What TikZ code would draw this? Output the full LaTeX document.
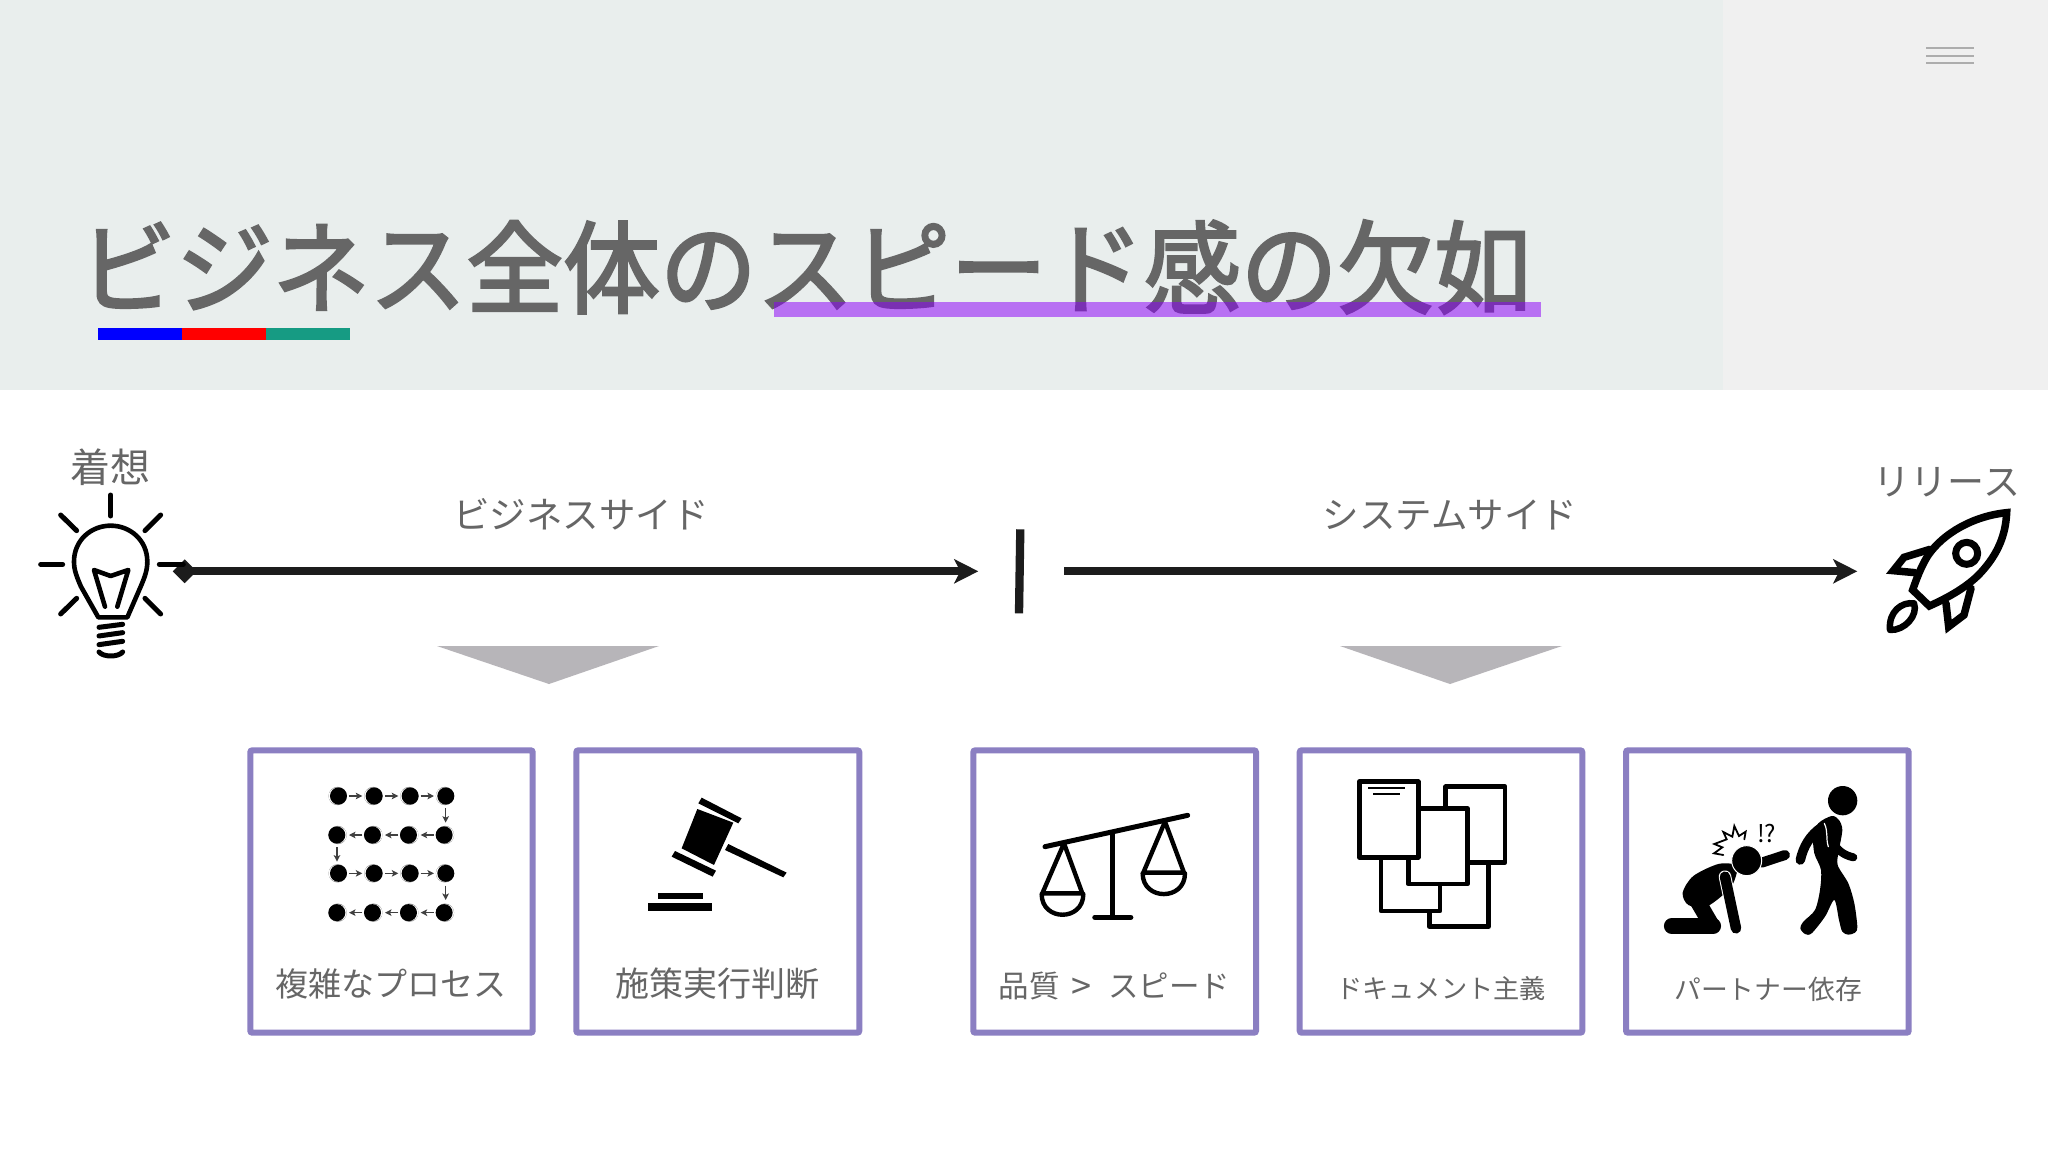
\documentclass[tikz,border=0pt]{standalone}
\usepackage{fontspec}
\usetikzlibrary{arrows.meta,shapes.geometric}
\setmainfont{Noto Sans CJK JP}
\newfontfamily\titlefont[FakeBold=2.6]{Noto Sans CJK JP}
\definecolor{headbg}{HTML}{E9EEED}
\definecolor{headbgb}{HTML}{F0F0F0}
\definecolor{ink}{HTML}{666666}
\definecolor{linecol}{HTML}{1C1C1C}
\definecolor{boxcol}{HTML}{8B7FC2}
\definecolor{purplebar}{HTML}{8D00F9}
\definecolor{tealbar}{HTML}{169B83}
\definecolor{trigray}{HTML}{B7B5B9}
\definecolor{dotgray}{HTML}{8A8A8A}
\tikzset{
  labeltext/.style={text=ink,inner sep=0pt,font=\fontsize{#1}{#1}\selectfont},
  itemtext/.style={text=ink,inner sep=0pt,font=\fontsize{#1}{#1}\selectfont},
  itembox/.style={draw=boxcol,line width=6pt,rounded corners=2pt,fill=white},
  mainline/.style={draw=linecol,line width=8pt,-{Stealth[length=24pt,width=24pt,inset=6pt]}},
  iconline/.style={draw=black,line cap=round,line join=round,line width=#1},
  zoomed/.style={x=0.3333pt,y=-0.3333pt},
  docpage/.style={draw=black,fill=white,line width=4.6pt,line join=round},
  flowarrow/.style={draw=black!75,line width=1.5pt,-{Stealth[length=6.5pt,width=6.5pt,inset=1.5pt]}}
}
\begin{document}
\begin{tikzpicture}[x=1pt,y=-1pt]
\useasboundingbox (0,0) rectangle (2048,1152);
\fill[white] (0,0) rectangle (2048,1152);
% header
\fill[headbg] (0,0) rectangle (1723,390);
\fill[headbgb] (1723,0) rectangle (2048,390);
\foreach \yy in {48,55.7,63.3}{\draw[color=black!32,line width=2pt] (1926,\yy) -- (1974,\yy);}
\node[anchor=west,inner sep=0pt,text=ink] (title) at (79,267) {\scalebox{1}[1.04]{\titlefont\fontsize{96.8}{96.8}\selectfont ビジネス全体のスピード感の欠如}};
\fill[purplebar,opacity=0.53] (774,302) rectangle (1541,317);
\fill[blue] (98,328) rectangle (182,339.5);
\fill[red] (182,328) rectangle (266,339.5);
\fill[tealbar] (266,328) rectangle (350,339.5);
% labels
\node[labeltext=40] (ideaL) at (110.7,467.5) {着想};
\node[labeltext=37] (relL) at (1947,482) {リリース};
\node[labeltext=36.5] (bizL) at (581,514.5) {ビジネスサイド};
\node[labeltext=36.5] (sysL) at (1450,515.5) {システムサイド};
% arrows
\node[diamond,fill=linecol,minimum size=24pt,inner sep=0pt] (dia) at (184.7,571.3) {};
\coordinate (endA) at (978.3,571.3);
\coordinate (startB) at (1064,571.3);
\coordinate (endB) at (1857.3,571.3);
\draw[mainline] (dia.center) -- (endA);
\draw[mainline] (startB) -- (endB);
\draw[draw=linecol,line width=8.3pt] (1020.3,529.3) -- (1019,613.3);
% triangles
\fill[trigray] (437,646) -- (659,646) -- (549,684) -- cycle;
\fill[trigray] (1340,646) -- (1562,646) -- (1450,684) -- cycle;
% bulb
\begin{scope}[shift={(20,430)},zoomed]
\foreach \a/\b/\c/\d in {272/195/272/258,62/403/128/403,418/403/490/403,122/255/170/302,422/255/375/302,122/552/170/505,422/552/375/505}{
  \draw[iconline=5pt] (\a,\b) -- (\c,\d);}
\draw[iconline=4.6pt] (235,562) -- (322,562) -- (362,470) .. controls (375,440) and (382,420) .. (382,395)
  .. controls (382,330) and (330,287) .. (272,287) .. controls (214,287) and (162,330) .. (162,395)
  .. controls (162,420) and (170,440) .. (183,470) -- cycle;
\draw[iconline=4.6pt] (255,530) -- (222,420) -- (272,438) -- (325,420) -- (292,530);
\draw[iconline=5pt] (237,592) -- (308,583);
\draw[iconline=5pt] (237,618) -- (308,608);
\draw[iconline=5pt] (237,644) -- (308,634);
\draw[iconline=5pt] (237,666) .. controls (250,682) and (295,682) .. (308,666);
\end{scope}
% rocket
\begin{scope}[shift={(1840,440)},zoomed]
\draw[iconline=7.5pt,line join=miter] (500,218) .. controls (400,228) and (310,280) .. (265,345)
  .. controls (245,375) and (228,420) .. (218,450) -- (268,498)
  .. controls (320,475) and (385,440) .. (425,395) .. controls (470,345) and (497,290) .. (500,218) -- cycle;
\draw[iconline=7pt] (380,340) circle (33);
\draw[iconline=7.5pt,line join=miter] (270,328) -- (192,352) -- (160,392) -- (225,398);
\draw[iconline=7.5pt,line join=miter] (393,445) -- (372,525) -- (326,560) -- (318,490);
\draw[iconline=6.5pt] (150,570) .. controls (145,515) and (185,485) .. (222,490)
  .. controls (235,525) and (195,572) .. (150,570) -- cycle;
\end{scope}
% boxes
\draw[itembox] (250.3,750.3) rectangle (532.7,1032.7);
\draw[itembox] (576.3,750.3) rectangle (859.3,1032.7);
\draw[itembox] (973.3,750.3) rectangle (1256,1032.7);
\draw[itembox] (1299.7,750.3) rectangle (1582.3,1032.7);
\draw[itembox] (1626,750.3) rectangle (1908.7,1032.7);
\node[itemtext=33] (t1) at (390.5,984) {複雑なプロセス};
\node[itemtext=34] (t2) at (717.6,984) {施策実行判断};
\node[itemtext=30.5] (t3) at (1114.5,986) {品質 \,\raisebox{-2pt}{\fontsize{36}{36}\selectfont >}\,\, スピード};
\node[itemtext=26.2] (t4) at (1441,989) {ドキュメント主義};
\node[itemtext=26.8] (t5) at (1768,989) {パートナー依存};
% process icon
\begin{scope}[shift={(240,740)},zoomed]
\foreach \yy/\dx in {168/-1,285/1,400/-1,518/1}{
  \foreach \xx in {293,400,508,615}{
    \fill[dotgray] (\xx,\yy) circle (27.5);
    \fill[white] (\xx+\dx*2.5,\yy) circle (24.5);
    \fill[black] (\xx-\dx*2.5,\yy) circle (25.5);
  }
}
\foreach \yy in {168,400}{
  \draw[flowarrow] (327,\yy) -- (367,\yy);
  \draw[flowarrow] (435,\yy) -- (475,\yy);
  \draw[flowarrow] (542,\yy) -- (582,\yy);
}
\foreach \yy in {285,518}{
  \draw[flowarrow] (367,\yy) -- (327,\yy);
  \draw[flowarrow] (475,\yy) -- (435,\yy);
  \draw[flowarrow] (582,\yy) -- (542,\yy);
}
\draw[flowarrow] (617,205) -- (617,248);
\draw[flowarrow] (291,322) -- (291,365);
\draw[flowarrow] (617,437) -- (617,480);
\end{scope}
% gavel icon
\begin{scope}[shift={(570,740)},zoomed]
\fill[black] (382,207) -- (490,248) -- (432,375) -- (335,325) -- cycle;
\fill[black] (395,173) -- (515,235) -- (505,250) -- (385,190) -- cycle;
\fill[black] (315,333) -- (438,392) -- (428,410) -- (305,350) -- cycle;
\fill[black] (475,312) -- (650,398) -- (640,412) -- (465,330) -- cycle;
\fill[black] (263,458) rectangle (398,478);
\fill[black] (234,488) rectangle (427,513);
\end{scope}
% scales icon
\begin{scope}[shift={(965,740)},zoomed]
\draw[iconline=5pt] (240,320) -- (668,226);
\draw[iconline=4.6pt] (443,280) -- (443,532);
\draw[iconline=5.5pt] (390,532) -- (497,532);
\draw[iconline=4.4pt] (232,460) -- (297,310) -- (352,460) -- cycle;
\draw[iconline=4.4pt] (230,462) .. controls (230,545) and (355,545) .. (355,462);
\draw[iconline=4.4pt] (535,398) -- (600,245) -- (657,398) -- cycle;
\draw[iconline=4.4pt] (533,400) .. controls (533,483) and (660,483) .. (660,400);
\end{scope}
% documents icon
\begin{scope}[shift={(1290,740)},zoomed]
\draw[docpage] (418,340) rectangle (596,560);
\draw[docpage] (273,340) rectangle (450,513);
\draw[docpage] (467,140) rectangle (645,367);
\draw[docpage] (355,205) rectangle (532,432);
\draw[docpage] (208,125) rectangle (385,352);
\draw[black,line width=2pt] (235,145) -- (345,145);
\draw[black,line width=2pt] (250,161) -- (330,161);
\end{scope}
% partner icon
\begin{scope}[shift={(1615,740)},zoomed]
\fill[black] (683,182) circle (44);
\fill[black] plot[smooth cycle,tension=0.5] coordinates {(650,228) (672,240) (682,270) (672,330) (668,375) (700,430) (718,490) (727,560) (720,578) (700,584) (682,575) (672,540) (658,480) (630,530) (590,580) (570,582) (556,565) (565,545) (600,510) (615,450) (618,390) (598,340) (595,290) (610,250)};
\draw[iconline=9.5pt] (620,262) .. controls (585,285) and (565,320) .. (556,360);
\draw[white,line width=1.2pt,line cap=round] (628,250) .. controls (640,275) and (632,295) .. (640,320);
\draw[iconline=8pt] (650,300) .. controls (665,330) and (685,345) .. (715,352);
\fill[black] plot[smooth cycle,tension=0.5] coordinates {(365,375) (310,372) (235,408) (203,458) (220,495) (275,500) (345,445) (365,400)};
\draw[iconline=16pt] (240,470) -- (290,556);
\draw[iconline=15.5pt] (170,558) -- (295,558);
\draw[white,line width=12.5pt,line cap=round] (330,410) -- (363,565);
\draw[iconline=10.5pt] (330,410) -- (363,565);
\draw[iconline=10pt] (440,368) -- (510,345);
\fill[black,draw=white,line width=1pt] (395,362) circle (45);
\draw[iconline=1.8pt,line join=miter] (325,345) -- (297,340) -- (322,322) -- (298,312) -- (335,298) -- (325,276) -- (352,290) -- (358,258) -- (372,288) -- (392,275) -- (388,298);
\node[inner sep=0pt,font=\fontsize{24}{24}\selectfont\itshape,text=black] (exq) at (455,282) {!?};
\end{scope}
\end{tikzpicture}
\end{document}
